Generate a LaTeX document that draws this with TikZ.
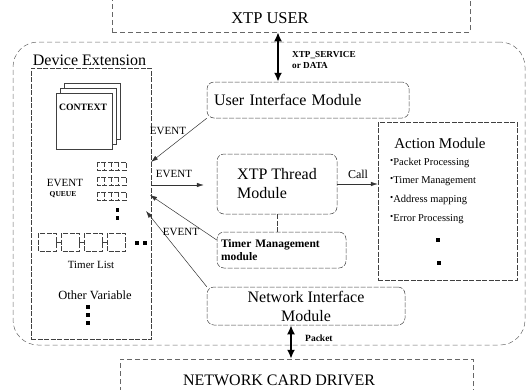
\documentclass[tikz,border=0pt]{standalone}
\usepackage{fontspec}
\setmainfont{Liberation Serif}
\usetikzlibrary{arrows.meta,calc,positioning}

\begin{document}
\begin{tikzpicture}[x=1pt,y=-1pt,
  thinline/.style={draw=black!75, line width=0.5pt, dash pattern=on 5pt off 1.5pt},
  dashbox/.style={draw=black!60, line width=0.5pt, dash pattern=on 5pt off 3pt, inner sep=0pt},
  module/.style={thinline, rounded corners=7pt, inner sep=0pt, align=center, font=\fontsize{16}{19}\selectfont},
  page/.style={draw=black!75, line width=0.5pt, fill=white, minimum width=56pt, minimum height=56pt, inner sep=0pt},
  eventarrow/.style={black!80, line width=0.5pt, -{Latex[length=7pt,width=4.5pt]}},
  bigarrow/.style={line width=2.2pt, {Latex[length=9pt,width=8pt]}-{Latex[length=9pt,width=8pt]}},
  evlabel/.style={font=\fontsize{11}{11}\selectfont},
  note/.style={font=\bfseries\fontsize{9.2}{10.5}\selectfont, align=left, anchor=west, inner sep=0pt},
  item/.style={font=\fontsize{10.5}{10.5}\selectfont, anchor=west, inner sep=0pt}
]
\useasboundingbox (0,0) rectangle (532,389);

% Outside boxes
\node[dashbox, minimum width=358pt, minimum height=52pt] (userbox) at (291,6) {};
\node[font=\fontsize{16.5}{16.5}\selectfont] (usertxt) at (270,18) {XTP USER};
\node[dashbox, minimum width=353pt, minimum height=50pt] (ncdbox) at (296.5,384) {};
\node[font=\fontsize{16}{16}\selectfont, inner sep=1pt] (ncdtxt) at (279,380) {NETWORK CARD DRIVER};

% Device extension
\node[dashbox, rounded corners=25pt, minimum width=512pt, minimum height=303pt] (devext) at (269,193.5) {};
\node[font=\fontsize{16}{16}\selectfont] (devtitle) at (89.5,60) {Device Extension};
\node[thinline, minimum width=120pt, minimum height=271pt] (devbox) at (91,203.5) {};

% Context pages
\node[page] (ctx3) at (92,111) {};
\node[page] (ctx2) at (88,116) {};
\node[page] (ctx1) at (84,121) {};
\node[font=\bfseries\fontsize{9.7}{9.7}\selectfont] (ctxtxt) at (83,107) {CONTEXT};

% Event queue
\node[font=\fontsize{11}{11}\selectfont] (evq) at (65,183) {EVENT};
\node[font=\bfseries\fontsize{7.5}{7.5}\selectfont] (queue) at (63,195) {QUEUE};
\foreach \y in {166,181,196} {
  \draw[thinline] (97,\y-4) rectangle (126,\y+4);
  \foreach \x in {104,111,118} \draw[thinline] (\x,\y-4) -- (\x,\y+4);
}
\foreach \y in {208,216} \fill (115.5,\y) rectangle ++(3.5,3.5);

% Timer list
\foreach \x in {38,61,84,107} \draw[thinline] (\x,233) rectangle (\x+18,251);
\foreach \x in {56,79,102} \draw[thinline] (\x,242) -- (\x+5,242);
\foreach \x in {135,143} \fill (\x,241) rectangle ++(4,4);
\node[font=\fontsize{11}{11}\selectfont] (tlist) at (91,265) {Timer List};
\node[font=\fontsize{12.5}{12.5}\selectfont] (othervar) at (95,295) {Other Variable};
\foreach \y in {305,313,321} \fill (86,\y) rectangle ++(4,4);

% Modules
\node[module, minimum width=202pt, minimum height=36pt, text width=188pt, align=left] (ui) at (308,100) {User Interface Module};
\node[module, align=left, minimum width=120pt, minimum height=60pt] (xtp) at (277,184) {XTP Thread\\Module};
\node[module, minimum width=129pt, minimum height=36pt, text width=121pt, align=left,
  font=\bfseries\fontsize{11.5}{12.5}\selectfont] (timer) at (281.5,250) {Timer Management\\module};
\node[module, minimum width=198pt, minimum height=38pt] (ni) at (306,306) {Network Interface\\Module};

% Action module
\node[thinline, minimum width=139pt, minimum height=158pt] (action) at (447.5,201) {};
\node[font=\fontsize{15}{15}\selectfont] (acttitle) at (440,143) {Action Module};
\foreach \t [count=\i] in {Packet Processing, Timer Management, Address mapping, Error Processing}
  \node[item] (item\i) at (390,144.4+18.6*\i) {{\fontsize{9}{9}\selectfont\raisebox{2pt}{\textbullet}}\t};
\fill (436,238) rectangle ++(4,4);
\fill (437,261) rectangle ++(4,4);

% Events into the device extension
\coordinate (ev1) at (151,162);
\coordinate (ev2) at (151,185);
\coordinate (ev3) at (150,195);
\coordinate (ev4) at (146,211);
\draw[eventarrow] (ui.south west) -- (ev1);
\draw[eventarrow, shorten >=13pt] (ev2) -- (xtp.west |- ev2);
\draw[eventarrow] ([yshift=10pt]timer.west) -- (ev3);
\draw[eventarrow] (ni.north west) -- (ev4);
\node[evlabel] (evl1) at (168,131) {EVENT};
\node[evlabel] (evl2) at (174,174) {EVENT};
\node[evlabel] (evl3) at (181,232) {EVENT};

% Call and thread to timer
\draw[eventarrow] (xtp.east) -- (action.west |- xtp.east);
\node[font=\fontsize{12}{12}\selectfont] (calltxt) at (358,174) {Call};
\draw[thinline] (xtp.south) -- (timer.north -| xtp.south);

% Service and packet arrows
\coordinate (svc) at (278,0);
\draw[bigarrow] (userbox.south -| svc) -- (ui.north -| svc);
\node[note] (svclabel) at (292,60) {XTP\_SERVICE\\or DATA};
\coordinate (pk) at (291,0);
\draw[bigarrow] (ni.south -| pk) -- (ncdbox.north -| pk);
\node[note, font=\bfseries\fontsize{9.5}{9.5}\selectfont] (pktlabel) at (305,338) {Packet};
\end{tikzpicture}
\end{document}
